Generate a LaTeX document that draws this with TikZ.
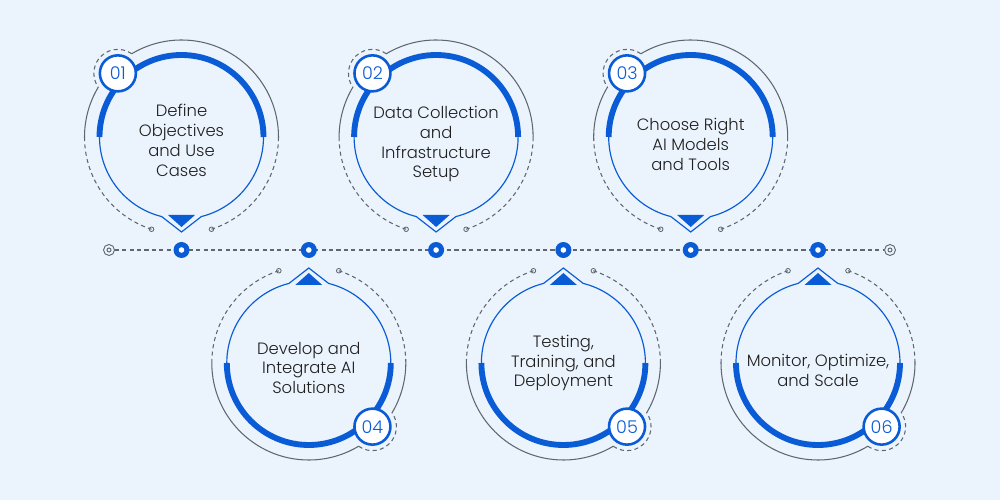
\documentclass[tikz,border=0pt]{standalone}
\usepackage{fontspec}
\setmainfont{Poppins Light}
\usetikzlibrary{positioning}
\definecolor{StepBlue}{HTML}{0A5CD6}
\definecolor{RingGray}{HTML}{5E6670}
\definecolor{PaleSky}{HTML}{EBF4FD}
\definecolor{Ink}{HTML}{1F1F1F}

\begin{document}
\begin{tikzpicture}[x=0.03cm,y=0.03cm,
    steptext/.style={align=center,font=\fontsize{14}{17}\selectfont,text=Ink},
    badge/.style={circle,draw=StepBlue,fill=white,line width=2.2pt,minimum size=1.08cm,
      inner sep=0pt,font=\fontsize{15}{15}\selectfont,text=StepBlue},
    ringsolid/.style={RingGray,line width=0.9pt},
    ringdash/.style={RingGray,line width=0.9pt,dash pattern=on 3.5pt off 2.8pt},
    thickarc/.style={StepBlue,line width=5pt},
    thinarc/.style={StepBlue,line width=1pt,line join=miter},
    tdot/.style={circle,fill=StepBlue,minimum size=0.48cm,inner sep=0pt},
    tend/.style={circle,draw=RingGray,line width=0.8pt,minimum size=0.33cm,inner sep=0pt}]
  \fill[PaleSky] (0,0) rectangle (1000,500);
  \useasboundingbox (0,0) rectangle (1000,500);

  \node[tend] (eleft) at (109,250) {};
  \node[tend] (eright) at (890,250) {};
  \draw[RingGray,line width=0.8pt] (eleft) circle[radius=2];
  \draw[RingGray,line width=0.8pt] (eright) circle[radius=2];
  \draw[ringdash] (eleft.east) -- (eright.west);

  \foreach \cx/\cy/\rot/\num/\dy/\txt in {
      181.5/363/0/01/-3/{Define\\Objectives\\and Use\\Cases},
      436.1/363/0/02/-7/{Data Collection\\and\\Infrastructure\\Setup},
      690.7/363/0/03/-7/{Choose Right\\AI Models\\and Tools},
      308.8/137/180/04/-5/{Develop and\\Integrate AI\\Solutions},
      563.4/137/180/05/0/{Testing,\\Training, and\\Deployment},
      818.0/137/180/06/-7/{Monitor, Optimize,\\and Scale}} {
    \begin{scope}[shift={(\cx,\cy)},rotate=\rot]
      \draw[ringsolid] (0:97) arc[start angle=0,end angle=121,radius=97];
      \draw[ringsolid] (149:97) arc[start angle=149,end angle=180,radius=97];
      \draw[ringdash] (180:97) arc[start angle=180,end angle=252,radius=97];
      \draw[ringdash] (0:97) arc[start angle=0,end angle=-72,radius=97];
      \draw[ringsolid,line width=0.7pt] (252:97) circle[radius=2.3];
      \draw[ringsolid,line width=0.7pt] (-72:97) circle[radius=2.3];
      \draw[ringdash] (135:90) ++(55:24) arc[start angle=55,end angle=215,radius=24];
      \draw[thinarc] (180:82) arc[start angle=180,end angle=256,radius=82]
        -- (0,-95) -- (-76:82) arc[start angle=-76,end angle=0,radius=82];
      \fill[StepBlue] (-13.5,-78) -- (13.5,-78) -- (0,-90) -- cycle;
      \draw[thickarc] (0:82) arc[start angle=0,end angle=180,radius=82];
      \node[badge] (b\num) at (135:90) {\num};
    \end{scope}
    \node[steptext] (t\num) at (\cx,\cy+\dy) {\txt};
  }

  \foreach \cx [count=\i] in {181.5,308.8,436.1,563.4,690.7,818.0} {
    \node[tdot] (d\i) at (\cx,250) {};
    \fill[white] (d\i) circle[radius=2.8];
  }
\end{tikzpicture}
\end{document}
